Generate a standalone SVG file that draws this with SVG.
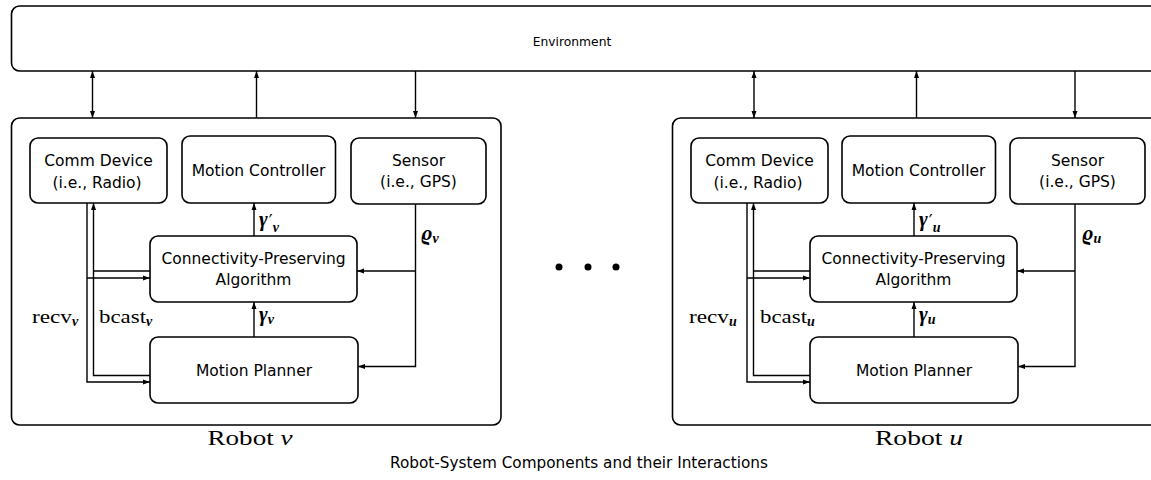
<svg xmlns="http://www.w3.org/2000/svg" width="1151" height="480" viewBox="0 0 1151 480">
<style>
.box{fill:#fff;stroke:#000;stroke-width:1.6}
.ln{fill:none;stroke:#000;stroke-width:1.4}
.lbl{font-family:"DejaVu Sans",sans-serif;font-size:15.5px;text-anchor:middle;fill:#000}
.env{font-family:"DejaVu Sans",sans-serif;font-size:12.3px;text-anchor:middle;fill:#000}
.math{font-family:"Liberation Serif",serif;font-size:19px;fill:#000}
.mi{font-family:"Liberation Serif",serif;font-style:italic;font-weight:bold;fill:#000}
.pr{font-family:"DejaVu Sans",sans-serif;font-size:17px;font-style:normal;font-weight:normal;fill:#000}
.rob{font-family:"Liberation Serif",serif;font-size:22px;text-anchor:middle;fill:#000}
.cap{font-family:"DejaVu Sans",sans-serif;font-size:15.5px;text-anchor:middle;fill:#000}
</style>
<defs>
<marker id="ah" markerUnits="userSpaceOnUse" markerWidth="8" markerHeight="6" refX="7" refY="3" orient="auto-start-reverse" viewBox="0 0 8 6">
<path d="M0,0.5 L7,3 L0,5.5 z" fill="#000"/>
</marker>
</defs>
<rect width="1151" height="480" fill="#fff"/>

<g id="environment">
<rect class="box" x="11.5" y="6" width="1160" height="65" rx="8"/>
<text class="env" x="572" y="46">Environment</text>
</g>

<g id="robot-v">
<rect class="box" x="11.5" y="118" width="489.5" height="307" rx="8"/>
<text class="rob" x="250" y="445" textLength="85" lengthAdjust="spacingAndGlyphs">Robot <tspan font-style="italic">v</tspan></text>
</g>
<g id="robot-u">
<rect class="box" x="672.5" y="118" width="500" height="307" rx="8"/>
<text class="rob" x="919" y="445" textLength="88" lengthAdjust="spacingAndGlyphs">Robot <tspan font-style="italic">u</tspan></text>
</g>

<g id="v-comm"><rect class="box" x="30" y="138" width="137" height="65" rx="8"/>
<text class="lbl" x="98.5" y="166">Comm Device</text><text class="lbl" x="97" y="188">(i.e., Radio)</text></g>
<g id="v-controller"><rect class="box" x="182" y="136" width="153.5" height="67" rx="8"/>
<text class="lbl" x="258.5" y="176">Motion Controller</text></g>
<g id="v-sensor"><rect class="box" x="351" y="138" width="135" height="66" rx="8"/>
<text class="lbl" x="418.5" y="166">Sensor</text><text class="lbl" x="418.5" y="187">(i.e., GPS)</text></g>
<g id="v-cpa"><rect class="box" x="150" y="236" width="207" height="66" rx="8"/>
<text class="lbl" x="253.5" y="264">Connectivity-Preserving</text><text class="lbl" x="253.5" y="285">Algorithm</text></g>
<g id="v-planner"><rect class="box" x="150" y="337" width="208" height="66" rx="8"/>
<text class="lbl" x="254" y="376">Motion Planner</text></g>

<g id="u-comm"><rect class="box" x="691" y="138" width="137" height="65" rx="8"/>
<text class="lbl" x="759.5" y="166">Comm Device</text><text class="lbl" x="758" y="188">(i.e., Radio)</text></g>
<g id="u-controller"><rect class="box" x="842" y="136" width="153.5" height="67" rx="8"/>
<text class="lbl" x="918.5" y="176">Motion Controller</text></g>
<g id="u-sensor"><rect class="box" x="1010" y="138" width="135" height="66" rx="8"/>
<text class="lbl" x="1077.5" y="166">Sensor</text><text class="lbl" x="1077.5" y="187">(i.e., GPS)</text></g>
<g id="u-cpa"><rect class="box" x="810" y="236" width="207" height="66" rx="8"/>
<text class="lbl" x="913.5" y="264">Connectivity-Preserving</text><text class="lbl" x="913.5" y="285">Algorithm</text></g>
<g id="u-planner"><rect class="box" x="810" y="337" width="208" height="66" rx="8"/>
<text class="lbl" x="914" y="376">Motion Planner</text></g>

<g id="connectors">
<line class="ln" x1="92.5" y1="71" x2="92.5" y2="118" marker-start="url(#ah)" marker-end="url(#ah)"/>
<line class="ln" x1="256.5" y1="118" x2="256.5" y2="71" marker-end="url(#ah)"/>
<line class="ln" x1="415.5" y1="71" x2="415.5" y2="118" marker-end="url(#ah)"/>
<line class="ln" x1="754" y1="71" x2="754" y2="118" marker-start="url(#ah)" marker-end="url(#ah)"/>
<line class="ln" x1="916.5" y1="71" x2="916.5" y2="118" marker-start="url(#ah)"/>
<line class="ln" x1="1075" y1="71" x2="1075" y2="118" marker-end="url(#ah)"/>

<line class="ln" x1="254" y1="236" x2="254" y2="203" marker-end="url(#ah)"/>
<line class="ln" x1="254" y1="337" x2="254" y2="302" marker-end="url(#ah)"/>
<polyline class="ln" points="415.5,204 415.5,366.5 358,366.5" marker-end="url(#ah)"/>
<line class="ln" x1="415.5" y1="271" x2="357" y2="271" marker-end="url(#ah)"/>
<polyline class="ln" points="87,203 87,382 150,382" marker-end="url(#ah)"/>
<line class="ln" x1="87" y1="278" x2="150" y2="278" marker-end="url(#ah)"/>
<polyline class="ln" points="150,375.5 93.5,375.5 93.5,203" marker-end="url(#ah)"/>
<line class="ln" x1="150" y1="271" x2="93.5" y2="271"/>

<line class="ln" x1="914" y1="236" x2="914" y2="203" marker-end="url(#ah)"/>
<line class="ln" x1="914" y1="337" x2="914" y2="302" marker-end="url(#ah)"/>
<polyline class="ln" points="1075,204 1075,366.5 1018,366.5" marker-end="url(#ah)"/>
<line class="ln" x1="1075" y1="271" x2="1017" y2="271" marker-end="url(#ah)"/>
<polyline class="ln" points="747,203 747,382 810,382" marker-end="url(#ah)"/>
<line class="ln" x1="747" y1="278" x2="810" y2="278" marker-end="url(#ah)"/>
<polyline class="ln" points="810,375.5 753.5,375.5 753.5,203" marker-end="url(#ah)"/>
<line class="ln" x1="810" y1="271" x2="753.5" y2="271"/>
</g>

<g id="labels">
<text class="mi" x="259" y="226" font-size="21">γ<tspan class="pr" dx="1" dy="1">′</tspan><tspan font-size="14" dy="5">v</tspan></text>
<text class="math" x="259" y="321"><tspan class="mi" font-size="21">γ</tspan><tspan class="mi" font-size="14" dy="3">v</tspan></text>
<text class="math" x="421" y="240"><tspan class="mi" font-size="21">ϱ</tspan><tspan class="mi" font-size="14" dy="3">v</tspan></text>
<text class="math" x="32" y="323"><tspan textLength="40" lengthAdjust="spacingAndGlyphs">recv</tspan><tspan class="mi" font-size="14" dy="3">v</tspan></text>
<text class="math" x="99" y="323"><tspan textLength="47" lengthAdjust="spacingAndGlyphs">bcast</tspan><tspan class="mi" font-size="14" dy="3">v</tspan></text>

<text class="mi" x="919" y="226" font-size="21">γ<tspan class="pr" dx="1" dy="1">′</tspan><tspan font-size="14" dy="5">u</tspan></text>
<text class="math" x="919" y="321"><tspan class="mi" font-size="21">γ</tspan><tspan class="mi" font-size="14" dy="3">u</tspan></text>
<text class="math" x="1082" y="240"><tspan class="mi" font-size="21">ϱ</tspan><tspan class="mi" font-size="14" dy="3">u</tspan></text>
<text class="math" x="689" y="323"><tspan textLength="40" lengthAdjust="spacingAndGlyphs">recv</tspan><tspan class="mi" font-size="14" dy="3">u</tspan></text>
<text class="math" x="760" y="323"><tspan textLength="47" lengthAdjust="spacingAndGlyphs">bcast</tspan><tspan class="mi" font-size="14" dy="3">u</tspan></text>
</g>

<g id="ellipsis">
<circle cx="559" cy="267" r="3.5"/><circle cx="588" cy="267" r="3.5"/><circle cx="616" cy="267" r="3.5"/>
</g>

<text class="cap" x="579" y="468" textLength="378" lengthAdjust="spacingAndGlyphs">Robot-System Components and their Interactions</text>
</svg>
